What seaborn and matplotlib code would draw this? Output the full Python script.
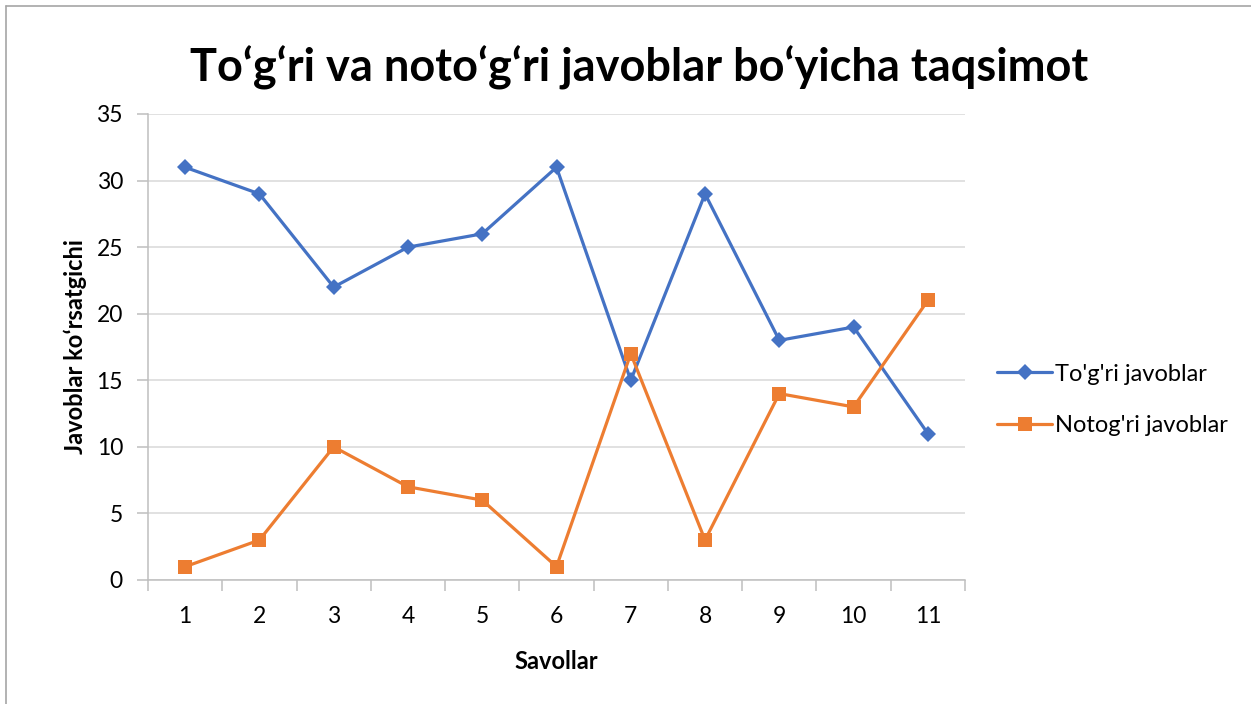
import matplotlib
matplotlib.use("Agg")
import matplotlib.pyplot as plt
from matplotlib.lines import Line2D
import seaborn as sns

questions = [1, 2, 3, 4, 5, 6, 7, 8, 9, 10, 11]
correct = [31, 29, 22, 25, 26, 31, 15, 29, 18, 19, 11]
wrong = [1, 3, 10, 7, 6, 1, 17, 3, 14, 13, 21]
series_names = ["To'g'ri javoblar", "Notog'ri javoblar"]
title = "To\u2018g\u2018ri va noto\u2018g\u2018ri javoblar bo\u2018yicha taqsimot"
xlabel = "Savollar"
ylabel = "Javoblar ko\u02bbrsatgichi"

sns.set_theme(style="white")
plt.rcParams["font.family"] = ["Lato", "DejaVu Sans"]
plt.rcParams["text.color"] = "black"
plt.rcParams["axes.labelcolor"] = "black"

W, H = 1251, 704
fig = plt.figure(figsize=(W / 100, H / 100), dpi=100)
ax = fig.add_axes([148 / W, 1 - 580 / H, (965 - 148) / W, (580 - 114) / H])

blue = "#4472C4"
orange = "#ED7D31"

sns.lineplot(x=questions, y=correct, ax=ax, color=blue, marker="D", markersize=8,
             markeredgewidth=0, linewidth=2.3, label=series_names[0])
sns.lineplot(x=questions, y=wrong, ax=ax, color=orange, marker="s", markersize=9.5,
             markeredgewidth=0, linewidth=2.3, label=series_names[1])

ax.set_xlim(0.5, 11.5)
ax.set_ylim(0, 35)
ax.set_yticks(range(0, 36, 5))
ax.set_xticks(questions)
ax.set_xticklabels([str(q) for q in questions])
ax.set_xticks([q - 0.5 for q in questions] + [11.5], minor=True)
ax.grid(axis="y", color="#d9d9d9", linewidth=1.1)
ax.set_axisbelow(True)
for s in ["top", "right"]:
    ax.spines[s].set_visible(False)
for s in ["left", "bottom"]:
    ax.spines[s].set_color("#bfbfbf")
    ax.spines[s].set_linewidth(1.1)
ax.tick_params(axis="x", which="major", length=0, pad=19, labelsize=16.5, colors="black")
ax.tick_params(axis="x", which="minor", length=8, width=1.1, color="#bfbfbf", direction="out", bottom=True)
ax.tick_params(axis="y", which="major", length=8, width=1.1, color="#bfbfbf", direction="out", left=True, pad=10, labelsize=16.5, labelcolor="black")

ax.set_xlabel(xlabel, fontsize=17, fontweight="bold", labelpad=16)
ax.set_ylabel(ylabel, fontsize=17, fontweight="bold", labelpad=7)

fig.text(0.511, 1 - 68 / H, title, ha="center", va="center", fontsize=32.5, fontweight="bold")

ax.legend_.remove()
handles, labels = ax.get_legend_handles_labels()
fig.legend(handles, labels, loc="center left", bbox_to_anchor=(988 / W, 1 - 400 / H),
           frameon=False, fontsize=17, handlelength=2.3, handletextpad=0.15,
           labelspacing=1.3, borderaxespad=0)

fig.add_artist(Line2D([5.5 / W, 5.5 / W], [0, 1 - 5.5 / H], transform=fig.transFigure, color="#a6a6a6", linewidth=1.2))
fig.add_artist(Line2D([5.5 / W, 1], [1 - 5.5 / H, 1 - 5.5 / H], transform=fig.transFigure, color="#a6a6a6", linewidth=1.2))

fig.savefig("out.png", dpi=100, facecolor="white")
